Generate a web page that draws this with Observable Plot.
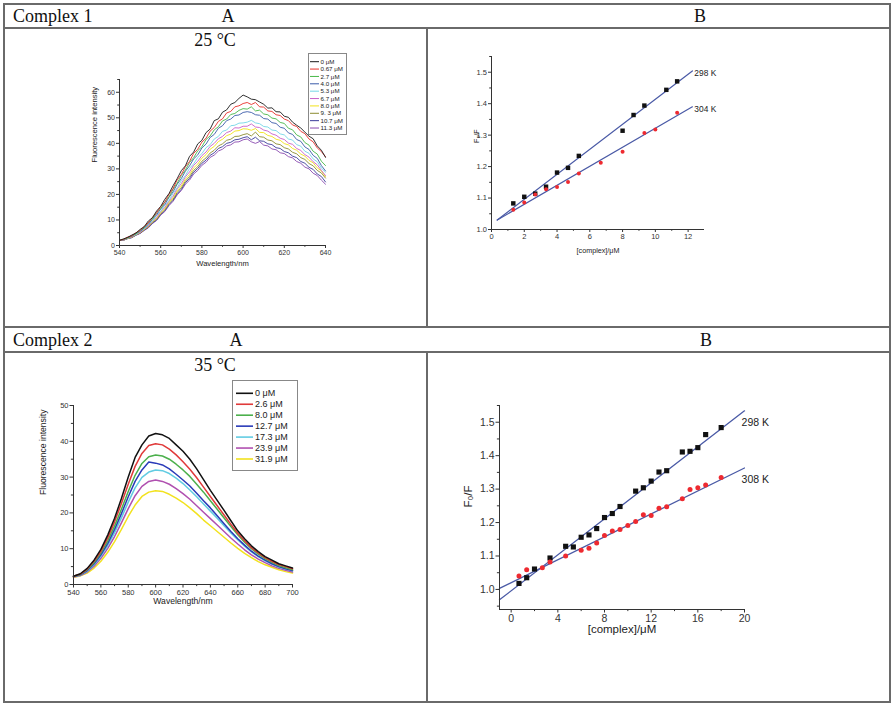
<!DOCTYPE html>
<html><head><meta charset="utf-8">
<script src="https://cdn.jsdelivr.net/npm/d3@7"></script>
<script src="https://cdn.jsdelivr.net/npm/@observablehq/plot@0.6"></script>
<style>
html,body{margin:0;padding:0;background:#fff;}
body{width:895px;height:706px;position:relative;overflow:hidden;font-family:"Liberation Sans",Arial,sans-serif;}
#table{position:absolute;left:0;top:0;}
</style></head><body>
<svg id="table" width="895" height="706" xmlns="http://www.w3.org/2000/svg">
  <g stroke="#6a6a6a" stroke-width="2" fill="none">
    <rect x="4" y="4" width="886" height="698"/>
    <line x1="4" y1="28" x2="890" y2="28"/>
    <line x1="4" y1="327" x2="890" y2="327"/>
    <line x1="4" y1="352" x2="890" y2="352"/>
    <line x1="427" y1="28" x2="427" y2="327"/>
    <line x1="427" y1="352" x2="427" y2="702"/>
  </g>
  <g font-family="'Liberation Serif','Times New Roman',serif" font-size="18" fill="#111">
    <text x="13" y="22">Complex 1</text>
    <text x="228" y="22" text-anchor="middle">A</text>
    <text x="700" y="22" text-anchor="middle">B</text>
    <text x="215" y="46" text-anchor="middle">25 °C</text>
    <text x="13" y="346">Complex 2</text>
    <text x="236" y="346" text-anchor="middle">A</text>
    <text x="706" y="346" text-anchor="middle">B</text>
    <text x="215" y="371" text-anchor="middle">35 °C</text>
  </g>
</svg>
<script>
// ---------- Complex 1, panel A (25 °C) ----------
const wl1 = [540,542,544,546,548,550,552,554,556,558,560,562,564,566,568,570,572,574,576,578,580,582,584,586,588,590,592,594,596,598,600,602,604,606,608,610,612,614,616,618,620,622,624,626,628,630,632,634,636,638,640];
const labels1 = ["0 μM","0.67 μM","2.7 μM","4.0 μM","5.3 μM","6.7 μM","8.0 μM","9. 3 μM","10.7 μM","11.3 μM"];
const colors1 = ["#1a1a1a","#e8302a","#48b848","#3a5aa8","#74d6e6","#c860c8","#f2e21a","#8c8c30","#3a3a9a","#8a4ab0"];
const c1_0 = [2.0,2.6,3.2,4.1,4.9,6.3,7.4,9.6,10.9,13.5,15.3,18.1,20.3,23.4,26.2,29.3,31.2,34.9,36.6,39.8,41.2,44.2,45.6,48.9,49.6,52.2,53.1,55.3,56.0,57.6,58.9,58.2,57.3,57.1,56.2,55.3,53.8,53.9,52.4,52.3,50.6,50.2,48.3,47.1,46.0,44.4,42.8,41.8,39.0,37.3,34.5];
const c1_1 = [2.0,2.4,3.3,3.8,5.0,5.9,7.4,8.9,11.0,12.8,15.2,17.0,20.0,22.3,25.7,27.8,30.9,32.9,36.1,37.7,40.5,42.0,44.8,46.2,48.6,49.6,51.9,52.5,54.3,54.7,55.6,56.0,55.2,56.0,54.3,54.2,52.7,52.5,51.2,50.9,49.5,48.9,47.2,46.6,44.7,43.8,41.7,40.6,38.2,36.8,34.8];
const c1_2 = [2.0,2.5,3.0,3.9,4.6,5.9,7.0,8.9,10.3,12.8,14.4,17.0,19.0,22.0,24.4,27.4,29.6,32.5,34.4,37.1,38.7,41.5,42.9,45.3,46.5,48.8,49.5,51.3,51.7,52.9,53.6,53.4,54.3,52.7,53.0,51.5,51.2,49.9,49.6,48.2,47.8,45.9,45.3,43.3,42.5,40.3,39.3,36.9,35.8,33.0,31.3];
const c1_3 = [2.0,2.3,3.1,3.6,4.7,5.5,6.9,8.3,10.3,12.0,14.3,16.1,18.8,21.0,24.0,26.2,29.1,31.2,33.9,35.5,38.2,39.7,42.3,43.5,45.9,46.9,48.9,49.5,50.9,51.1,52.1,52.4,52.1,51.2,51.0,49.7,49.5,48.1,47.8,46.3,45.9,44.1,43.5,41.5,40.8,38.6,37.6,35.3,34.1,31.3,29.2];
const c1_4 = [2.0,2.3,2.9,3.7,4.3,5.5,6.5,8.3,9.5,11.8,13.4,15.8,17.6,20.4,22.6,25.4,27.4,30.2,32.0,34.5,36.0,38.3,39.5,41.7,42.7,44.7,45.2,46.9,47.1,47.9,48.0,48.3,49.0,48.0,47.7,46.6,46.4,45.2,45.0,43.7,43.3,41.7,41.3,39.5,38.9,36.9,36.1,33.9,32.8,30.3,28.7];
const c1_5 = [2.0,2.2,2.9,3.4,4.4,5.1,6.5,7.7,9.6,11.0,13.3,14.9,17.4,19.3,22.2,24.2,26.9,28.8,31.4,33.0,35.2,36.6,38.8,40.0,41.8,42.7,44.2,44.8,46.1,46.0,46.7,46.7,47.6,46.4,46.2,45.2,44.8,43.7,43.2,42.0,41.5,40.1,39.6,38.0,37.2,35.6,34.6,32.8,31.6,29.4,27.4];
const c1_6 = [2.0,2.2,2.8,3.3,4.3,5.0,6.3,7.5,9.3,10.6,12.9,14.4,16.9,18.7,21.4,23.3,26.0,27.8,30.4,31.9,34.2,35.6,37.7,38.8,40.7,41.6,43.0,43.6,44.8,45.0,45.7,45.6,45.1,45.8,44.3,44.2,43.1,42.7,41.6,41.2,39.9,39.4,38.0,37.3,35.8,35.0,33.3,32.4,30.4,29.2,27.0];
const c1_7 = [2.0,2.1,2.8,3.2,4.2,4.9,6.2,7.3,9.1,10.3,12.5,14.0,16.4,18.1,20.8,22.6,25.2,27.0,29.4,30.9,33.0,34.3,36.2,37.3,39.0,39.8,41.2,41.6,42.7,42.8,43.4,43.8,42.9,44.4,42.6,42.4,41.3,41.0,39.8,39.5,38.3,37.8,36.5,35.9,34.4,33.7,32.1,31.2,29.4,28.4,26.4];
const c1_8 = [2.0,2.1,2.7,3.1,4.1,4.8,6.0,7.1,8.8,10.0,12.2,13.6,16.0,17.7,20.3,22.0,24.6,26.3,28.7,30.2,32.2,33.4,35.3,36.3,38.0,38.7,40.0,40.4,41.4,41.6,42.2,42.6,41.4,42.4,41.0,40.8,39.8,39.5,38.3,38.0,36.8,36.3,35.0,34.4,32.9,32.2,30.6,29.8,28.0,27.0,24.9];
const c1_9 = [2.0,2.1,2.7,3.1,4.0,4.7,5.9,6.9,8.6,9.8,11.9,13.3,15.6,17.3,19.8,21.5,24.0,25.6,28.0,29.4,31.4,32.6,34.5,35.4,37.0,37.7,39.0,39.4,40.5,40.6,41.4,41.7,40.6,40.0,40.7,39.3,39.0,37.8,37.5,36.3,36.0,34.8,34.3,32.9,32.2,30.7,30.0,28.3,27.4,25.6,24.0];
const series1 = [c1_0,c1_1,c1_2,c1_3,c1_4,c1_5,c1_6,c1_7,c1_8,c1_9];

// ---------- Complex 1, panel B (Stern-Volmer) ----------
const x298a = [1.33,2.0,2.67,3.33,4.0,4.67,5.33,8.0,8.67,9.33,10.67,11.33];
const y298a = [1.083,1.104,1.114,1.136,1.181,1.196,1.234,1.314,1.364,1.394,1.444,1.471];
const x304a = [1.33,2.0,2.67,3.33,4.0,4.67,5.33,6.67,8.0,9.33,10.0,11.33];
const y304a = [1.063,1.086,1.111,1.128,1.135,1.151,1.178,1.212,1.247,1.307,1.318,1.371];
const fitXa = [0.35,12.26];
const fit298Ya = [1.030,1.504];
const fit304Ya = [1.030,1.390];
const kLabA = ["298 K","304 K"];
const kLabXA = [12.38,12.38];
const kLabYA = [1.497,1.382];

// ---------- Complex 2, panel A (35 °C) ----------
const wl2 = [540,545,550,555,560,565,570,575,580,585,590,595,600,605,610,615,620,625,630,635,640,645,650,655,660,665,670,675,680,685,690,695,700];
const labels2 = ["0 μM","2.6 μM","8.0 μM","12.7 μM","17.3 μM","23.9 μM","31.9 μM"];
const colors2 = ["#111111","#e03a3a","#4cb04c","#2a3ab8","#62cce2","#b050b0","#f2e21e"];
const c2_0 = [2.3,3.0,4.5,6.8,9.8,13.8,18.5,24.0,30.0,35.5,39.0,41.5,42.2,41.8,40.8,39.0,37.2,35.0,32.3,29.3,26.3,23.5,20.7,17.8,15.0,12.8,10.8,9.2,7.8,6.8,5.8,5.2,4.6];
const c2_1 = [2.3,2.9,4.3,6.5,9.3,13.0,17.5,22.6,28.0,33.0,36.6,38.8,39.3,39.0,37.8,36.2,34.3,32.2,29.8,27.2,24.6,22.0,19.4,16.8,14.3,12.2,10.3,8.8,7.5,6.5,5.6,5.0,4.4];
const c2_2 = [2.3,2.8,4.1,6.1,8.8,12.2,16.3,21.0,26.0,30.5,33.8,35.7,36.2,35.9,35.0,33.6,32.0,30.2,28.0,25.8,23.4,21.0,18.6,16.2,13.9,11.8,10.0,8.5,7.2,6.2,5.3,4.7,4.1];
const c2_3 = [2.2,2.7,3.9,5.8,8.3,11.5,15.4,19.8,24.5,28.8,32.0,34.2,33.9,33.4,32.3,30.8,29.2,27.5,25.5,23.4,21.4,19.2,17.0,14.8,12.8,11.0,9.3,7.9,6.8,5.8,5.0,4.4,3.9];
const c2_4 = [2.2,2.6,3.7,5.5,7.9,10.9,14.5,18.6,23.0,27.0,29.9,31.4,32.0,31.8,31.0,29.7,28.2,26.4,24.5,22.5,20.5,18.5,16.4,14.4,12.5,10.7,9.1,7.8,6.6,5.7,4.9,4.3,3.8];
const c2_5 = [2.1,2.5,3.5,5.1,7.3,10.1,13.4,17.2,21.2,24.8,27.4,28.8,29.2,28.8,28.0,26.8,25.4,23.8,22.0,20.2,18.4,16.6,14.8,13.0,11.3,9.7,8.3,7.1,6.1,5.2,4.5,4.0,3.5];
const c2_6 = [2.0,2.4,3.2,4.6,6.5,9.0,12.0,15.4,19.0,22.2,24.6,25.8,26.2,26.0,25.2,24.1,22.9,21.4,19.8,18.0,16.4,14.8,13.2,11.6,10.1,8.7,7.5,6.4,5.5,4.8,4.1,3.6,3.2];
const series2 = [c2_0,c2_1,c2_2,c2_3,c2_4,c2_5,c2_6];

// ---------- Complex 2, panel B (Stern-Volmer) ----------
const x298b = [0.67,1.33,2.0,3.33,4.67,5.33,6.0,6.67,7.33,8.0,8.67,9.33,10.67,11.33,12.0,12.67,13.33,14.67,15.33,16.0,16.67,18.0];
const y298b = [1.018,1.035,1.061,1.094,1.129,1.127,1.156,1.163,1.182,1.215,1.227,1.248,1.294,1.304,1.324,1.351,1.355,1.411,1.413,1.424,1.463,1.484];
const x308b = [0.67,1.33,2.67,3.33,4.67,6.0,6.67,7.33,8.0,8.67,9.33,10.0,10.67,11.33,12.0,12.67,13.33,14.67,15.33,16.0,16.67,18.0];
const y308b = [1.040,1.059,1.065,1.082,1.100,1.117,1.123,1.139,1.161,1.175,1.179,1.191,1.203,1.223,1.221,1.243,1.247,1.271,1.299,1.304,1.312,1.335];
const fitXb = [-1,20];
const fit298Yb = [0.969,1.534];
const fit308Yb = [1.003,1.363];
const kLabB = ["298 K","308 K"];
const kLabXB = [19.75,19.75];
const kLabYB = [1.500,1.329];

// ---------- helpers ----------
const FONT = '"Liberation Sans", Arial, sans-serif';
function panel(o) {
  const fx = o.fmtX || (d => String(d));
  const fy = o.fmtY || (d => String(d));
  const chart = Plot.plot({
    width: o.width, height: o.height,
    marginLeft: o.ml, marginRight: o.mr, marginTop: o.mt, marginBottom: o.mb,
    style: {fontFamily: FONT, fontSize: o.tick + "px", color: "#333", background: "transparent", overflow: "visible"},
    x: {domain: o.xd},
    y: {domain: o.yd},
    color: o.color,
    marks: [
      ...o.marks,
      Plot.ruleY([o.yd[0]], {stroke: "#333", strokeWidth: 1}),
      Plot.ruleX([o.xd[0]], {stroke: "#333", strokeWidth: 1}),
      Plot.axisX(o.xt, {anchor: "bottom", tickSize: o.ts, tickPadding: o.tp, tickFormat: fx, label: null}),
      Plot.axisX(o.xm, {anchor: "bottom", tickSize: o.ts * 0.6, tickFormat: () => "", label: null}),
      Plot.axisY(o.yt, {anchor: "left", tickSize: o.ts, tickPadding: o.tp, tickFormat: fy, label: null}),
      Plot.axisY(o.ym, {anchor: "left", tickSize: o.ts * 0.6, tickFormat: () => "", label: null}),
      Plot.text([o.xLabel], {text: d => d, frameAnchor: "bottom", dy: o.xdy, fontSize: o.lab, fill: "#222"}),
      Plot.text([o.yLabel], {text: d => d, frameAnchor: "left", dx: o.ydx, rotate: -90, fontSize: o.lab, fill: "#222"})
    ]
  });
  chart.style.position = "absolute";
  chart.style.left = o.left + "px";
  chart.style.top = o.top + "px";
  document.body.appendChild(chart);
}
function legend(o) {
  const svg = d3.create("svg").attr("width", o.w).attr("height", o.h)
    .style("position", "absolute").style("left", o.left + "px").style("top", o.top + "px")
    .style("font-family", FONT);
  svg.append("rect").attr("x", 0.5).attr("y", 0.5).attr("width", o.w - 1).attr("height", o.h - 1)
    .attr("fill", "#fff").attr("stroke", "#888");
  o.labels.forEach((lab, i) => {
    const y = o.y0 + i * o.dy;
    svg.append("line").attr("x1", o.x0).attr("x2", o.x1).attr("y1", y).attr("y2", y)
      .attr("stroke", o.colors[i]).attr("stroke-width", o.sw);
    svg.append("text").attr("x", o.tx).attr("y", y).attr("dy", "0.35em")
      .attr("font-size", o.fs).attr("fill", "#222").text(lab);
  });
  document.body.appendChild(svg.node());
}
function longRows(wl, series, labels) {
  const rows = [];
  for (let i = series.length - 1; i >= 0; i--) wl.forEach((w, j) => rows.push({w, v: series[i][j], s: labels[i]}));
  return rows;
}
const f1 = d3.format(".1f");

// Panel 1A
panel({
  left: 80, top: 60, width: 260, height: 220, ml: 39, mr: 15, mt: 19, mb: 35,
  xd: [540, 640], yd: [0, 65],
  xt: [540,560,580,600,620,640], xm: [550,570,590,610,630],
  yt: [0,10,20,30,40,50,60], ym: [5,15,25,35,45,55,65],
  ts: 3, tp: 1.5, tick: 7, lab: 7.6,
  xLabel: "Wavelength/nm", yLabel: "Fluorescence intensity", xdy: 20, ydx: -25,
  color: {domain: labels1, range: colors1},
  marks: [Plot.line(longRows(wl1, series1, labels1), {x: "w", y: "v", stroke: "s", z: "s", strokeWidth: 0.9})]
});
legend({left: 308, top: 53, w: 39, h: 82, labels: labels1, colors: colors1,
  y0: 8.7, dy: 7.37, x0: 2, x1: 11, tx: 12.5, fs: 6.2, sw: 1});

// Panel 1B
panel({
  left: 460, top: 40, width: 270, height: 230, ml: 31, mr: 26, mt: 16, mb: 41,
  xd: [0, 13], yd: [1.0, 1.55],
  xt: [0,2,4,6,8,10,12], xm: [1,3,5,7,9,11],
  yt: [1.0,1.1,1.2,1.3,1.4,1.5], ym: [1.05,1.15,1.25,1.35,1.45,1.55],
  ts: 3, tp: 1.5, tick: 7.5, lab: 7.2, fmtY: f1,
  xLabel: "[complex]/μM", yLabel: "F₀/F", xdy: 23, ydx: -15,
  marks: [
    Plot.line({length: 2}, {x: fitXa, y: fit298Ya, stroke: "#4a5aa6", strokeWidth: 1.2}),
    Plot.line({length: 2}, {x: fitXa, y: fit304Ya, stroke: "#4a5aa6", strokeWidth: 1.2}),
    Plot.dot({length: x298a.length}, {x: x298a, y: y298a, symbol: "square", r: 2.5, fill: "#111", stroke: "none"}),
    Plot.dot({length: x304a.length}, {x: x304a, y: y304a, r: 2, fill: "#ee2a30", stroke: "none"}),
    Plot.text(kLabA, {x: kLabXA, y: kLabYA, text: d => d, textAnchor: "start", fontSize: 8.4, fill: "#222"})
  ]
});

// Panel 2A
panel({
  left: 20, top: 390, width: 290, height: 225, ml: 53, mr: 18, mt: 15, mb: 31,
  xd: [540, 700], yd: [0, 50],
  xt: [540,560,580,600,620,640,660,680,700], xm: [550,570,590,610,630,650,670,690],
  yt: [0,10,20,30,40,50], ym: [5,15,25,35,45],
  ts: 3.5, tp: 1.5, tick: 7.5, lab: 8.6,
  xLabel: "Wavelength/nm", yLabel: "Fluorescence intensity", xdy: 19.5, ydx: -30,
  color: {domain: labels2, range: colors2},
  marks: [Plot.line(longRows(wl2, series2, labels2), {x: "w", y: "v", stroke: "s", z: "s", strokeWidth: 1.5})]
});
legend({left: 232, top: 380, w: 66, h: 91, labels: labels2, colors: colors2,
  y0: 13.3, dy: 10.95, x0: 4, x1: 21, tx: 23, fs: 9, sw: 1.6});

// Panel 2B
panel({
  left: 455, top: 390, width: 330, height: 260, ml: 44, mr: 41, mt: 15, mb: 41,
  xd: [-1, 20], yd: [0.94, 1.55],
  xt: [0,4,8,12,16,20], xm: [2,6,10,14,18],
  yt: [1.0,1.1,1.2,1.3,1.4,1.5], ym: [0.95,1.05,1.15,1.25,1.35,1.45,1.55],
  ts: 3.5, tp: 1.5, tick: 10.5, lab: 11.5, fmtY: f1,
  xLabel: "[complex]/μM", yLabel: "F₀/F", xdy: 23, ydx: -31,
  marks: [
    Plot.line({length: 2}, {x: fitXb, y: fit298Yb, stroke: "#4a5aa6", strokeWidth: 1.3}),
    Plot.line({length: 2}, {x: fitXb, y: fit308Yb, stroke: "#4a5aa6", strokeWidth: 1.3}),
    Plot.dot({length: x298b.length}, {x: x298b, y: y298b, symbol: "square", r: 2.9, fill: "#111", stroke: "none"}),
    Plot.dot({length: x308b.length}, {x: x308b, y: y308b, r: 2.5, fill: "#ee2a30", stroke: "none"}),
    Plot.text(kLabB, {x: kLabXB, y: kLabYB, text: d => d, textAnchor: "start", fontSize: 10.5, fill: "#222"})
  ]
});
</script>
</body></html>
